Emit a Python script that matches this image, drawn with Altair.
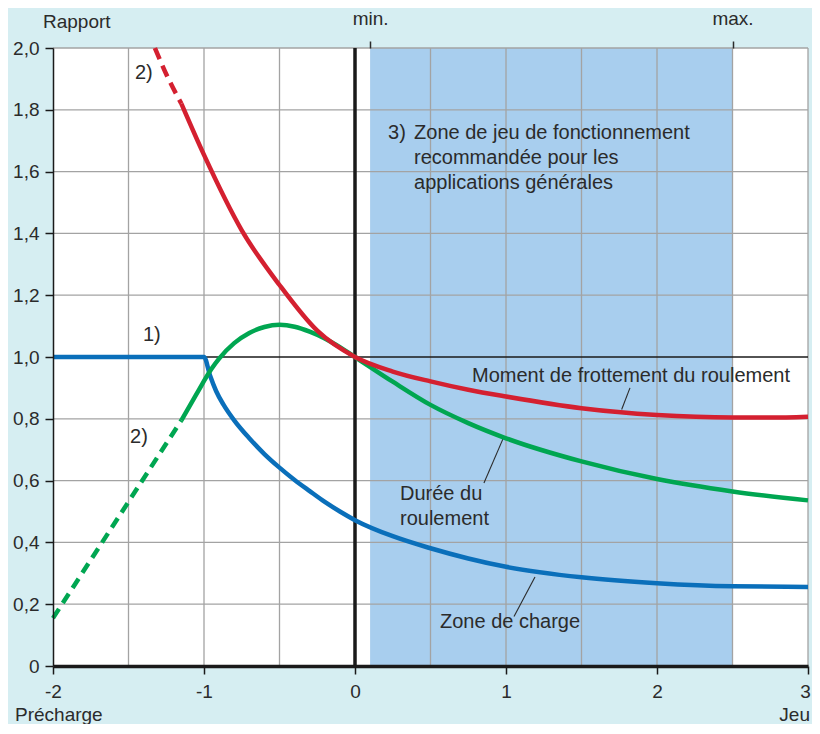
import altair as alt
import pandas as pd

# ---------------- data ----------------
red_dash_x = [-1.325, -1.24, -1.15]
red_dash_y = [2.0, 1.905, 1.82]
red_x = [-1.15, -1.0, -0.75, -0.5, -0.25, 0.0, 0.25, 0.5, 0.75, 1.0, 1.5, 2.0, 2.5, 2.75, 3.0]
red_y = [1.82, 1.654, 1.41, 1.233, 1.085, 1.0, 0.953, 0.921, 0.894, 0.872, 0.834, 0.812, 0.804, 0.804, 0.807]

green_dash_x = [-2.0, -1.15]
green_dash_y = [0.155, 0.795]
green_x = [-1.15, -1.05, -0.95, -0.9, -0.8, -0.7, -0.6, -0.5, -0.4, -0.3, -0.2, -0.1, 0.0,
           0.25, 0.5, 0.75, 1.0, 1.5, 2.0, 2.5, 3.0]
green_y = [0.795, 0.88, 0.962, 0.995, 1.045, 1.078, 1.097, 1.104, 1.098, 1.082, 1.06, 1.032, 1.0,
           0.92, 0.845, 0.786, 0.737, 0.662, 0.605, 0.565, 0.536]

blue_x = [-2.0, -1.0, -0.96, -0.92, -0.87, -0.8, -0.7, -0.6, -0.5, -0.4, -0.3, -0.2, -0.1, 0.0,
          0.25, 0.5, 0.75, 1.0, 1.5, 2.0, 2.5, 3.0]
blue_y = [1.0, 1.0, 0.94, 0.89, 0.845, 0.795, 0.737, 0.686, 0.642, 0.602, 0.566, 0.531, 0.5, 0.472,
          0.42, 0.381, 0.348, 0.321, 0.287, 0.268, 0.258, 0.256]

zone_start = [0.1]
zone_end = [2.5]
zone_labels = ["min.", "max."]

x_ticks = [-2, -1, 0, 1, 2, 3]
y_ticks = [0, 0.2, 0.4, 0.6, 0.8, 1.0, 1.2, 1.4, 1.6, 1.8, 2.0]
x_grid = [-1.5, -1.0, -0.5, 0.5, 1.0, 1.5, 2.0, 2.5, 3.0]
y_grid = [0.2, 0.4, 0.6, 0.8, 1.2, 1.4, 1.6, 1.8, 2.0]

# annotation texts (data coordinates)
ann_text = ["2)", "1)", "2)", "3)", "Zone de jeu de fonctionnement", "recommandée pour les",
            "applications générales", "Moment de frottement du roulement", "Durée du",
            "roulement", "Zone de charge"]
ann_x = [-1.457, -1.404, -1.49, 0.219, 0.391, 0.391, 0.391, 0.775, 0.298, 0.298, 0.563]
ann_y = [1.919, 1.071, 0.741, 1.725, 1.725, 1.644, 1.563, 0.9385, 0.557, 0.476, 0.142]

# leader lines
lead_x = [1.821, 0.980, 1.192]
lead_y = [0.900, 0.735, 0.288]
lead_x2 = [1.766, 0.854, 1.053]
lead_y2 = [0.830, 0.592, 0.160]

# ---------------- styling ----------------
FONT = "Liberation Sans"
TXT = "#2b2b2b"
GRID = "#a3a3a3"
RED = "#d42030"
GREEN = "#00a651"
BLUE = "#0a6fba"
ZONE = "#a8ceee"
BG = "#d6eef2"

W, H = 755, 618
xs = alt.Scale(domain=[-2, 3], nice=False, zero=False)
ys = alt.Scale(domain=[0, 2], nice=False, zero=False)

# zone rectangle with top axis (min./max.) and the y axis
zone_df = pd.DataFrame({"x": zone_start, "x2": zone_end, "y": [0], "y2": [2]})
zone = alt.Chart(zone_df).mark_rect(color=ZONE).encode(
    x=alt.X("x:Q", scale=xs, axis=alt.Axis(
        orient="top", values=[zone_start[0], zone_end[0]], grid=False, domain=False,
        tickColor=TXT, tickSize=7, tickWidth=1.5, labelFontSize=19, labelFont=FONT,
        labelColor=TXT, labelPadding=13, title=None, zindex=1,
        labelExpr=f"datum.value < 1 ? '{zone_labels[0]}' : '{zone_labels[1]}'")),
    x2="x2:Q",
    y=alt.Y("y:Q", scale=ys, axis=alt.Axis(
        orient="left", values=y_ticks, grid=False, domainColor="#1a1a1a",
        domainWidth=1.5, tickColor="#1a1a1a", tickSize=8, tickWidth=1.5,
        labelFontSize=19, labelFont=FONT, labelColor=TXT, labelPadding=6,
        title=None, zindex=1,
        labelExpr="datum.value == 0 ? '0' : replace(format(datum.value, '.1f'), '.', ',')")),
    y2="y2:Q",
)

vgrid = alt.Chart(pd.DataFrame({"v": x_grid})).mark_rule(color=GRID, strokeWidth=1.3).encode(
    x=alt.X("v:Q", scale=xs, axis=None))
hgrid = alt.Chart(pd.DataFrame({"h": y_grid})).mark_rule(color=GRID, strokeWidth=1.3).encode(
    y=alt.Y("h:Q", scale=ys))
vzero = alt.Chart(pd.DataFrame({"v": [0]})).mark_rule(color="#1a1a1a", strokeWidth=3.5).encode(
    x=alt.X("v:Q", scale=xs, axis=None))
hone = alt.Chart(pd.DataFrame({"h": [1.0]})).mark_rule(color="#1a1a1a", strokeWidth=1.5).encode(
    y=alt.Y("h:Q", scale=ys))


def curve(xv, yv, color, dash=None, with_axis=False):
    df = pd.DataFrame({"x": xv, "y": yv})
    kw = dict(color=color, strokeWidth=4.5, interpolate="monotone", strokeCap="butt")
    if dash:
        kw["strokeDash"] = dash
    if with_axis:
        xa = alt.Axis(orient="bottom", values=x_ticks, grid=False, domainColor="#1a1a1a",
                      domainWidth=3.5, tickColor="#1a1a1a", tickSize=8, tickWidth=1.5,
                      labelFontSize=19, labelFont=FONT, labelColor=TXT, labelPadding=8,
                      title=None, zindex=1, labelExpr="'' + datum.value", labelFlush=False,
                      labelOffset={"condition": {"test": "datum.value == 3", "value": -3},
                                   "value": 0})
    else:
        xa = None
    return alt.Chart(df).mark_line(**kw).encode(
        x=alt.X("x:Q", scale=xs, axis=xa),
        y=alt.Y("y:Q", scale=ys),
    )


blue_line = curve(blue_x, blue_y, BLUE, with_axis=True)
green_line = curve(green_x, green_y, GREEN)
green_dash = curve(green_dash_x, green_dash_y, GREEN, dash=[11, 7])
red_line = curve(red_x, red_y, RED)
red_dash = curve(red_dash_x, red_dash_y, RED, dash=[12, 7])

leaders = alt.Chart(pd.DataFrame({"x": lead_x, "y": lead_y, "x2": lead_x2, "y2": lead_y2})).mark_rule(
    color=TXT, strokeWidth=1.1).encode(
    x=alt.X("x:Q", scale=xs, axis=None), y=alt.Y("y:Q", scale=ys), x2="x2:Q", y2="y2:Q")

ann = alt.Chart(pd.DataFrame({"t": ann_text, "x": ann_x, "y": ann_y})).mark_text(
    align="left", baseline="middle", font=FONT, fontSize=20, color=TXT).encode(
    x=alt.X("x:Q", scale=xs, axis=None), y=alt.Y("y:Q", scale=ys), text="t:N")

t_rapport = alt.Chart(pd.DataFrame({"t": ["Rapport"]})).mark_text(
    align="left", baseline="alphabetic", font=FONT, fontSize=19, color=TXT).encode(
    x=alt.value(-10), y=alt.value(-20), text="t:N")
t_pre = alt.Chart(pd.DataFrame({"t": ["Précharge"]})).mark_text(
    align="left", baseline="alphabetic", font=FONT, fontSize=19, color=TXT).encode(
    x=alt.value(-38), y=alt.value(673), text="t:N")
t_jeu = alt.Chart(pd.DataFrame({"t": ["Jeu"]})).mark_text(
    align="right", baseline="alphabetic", font=FONT, fontSize=19, color=TXT).encode(
    x=alt.value(757), y=alt.value(673), text="t:N")

chart = alt.layer(
    zone, vgrid, hgrid, hone, vzero, leaders,
    green_dash, red_dash, blue_line, green_line, red_line,
    ann, t_rapport, t_pre, t_jeu,
).resolve_axis(x="independent").properties(
    width=W, height=H, background=BG,
    padding={"left": 45, "top": 40, "right": 4, "bottom": 58},
    autosize=alt.AutoSizeParams(type="none"),
).configure_view(stroke=None, fill="white")

chart.save("out.html", embed_options={"renderer": "svg", "actions": False})
